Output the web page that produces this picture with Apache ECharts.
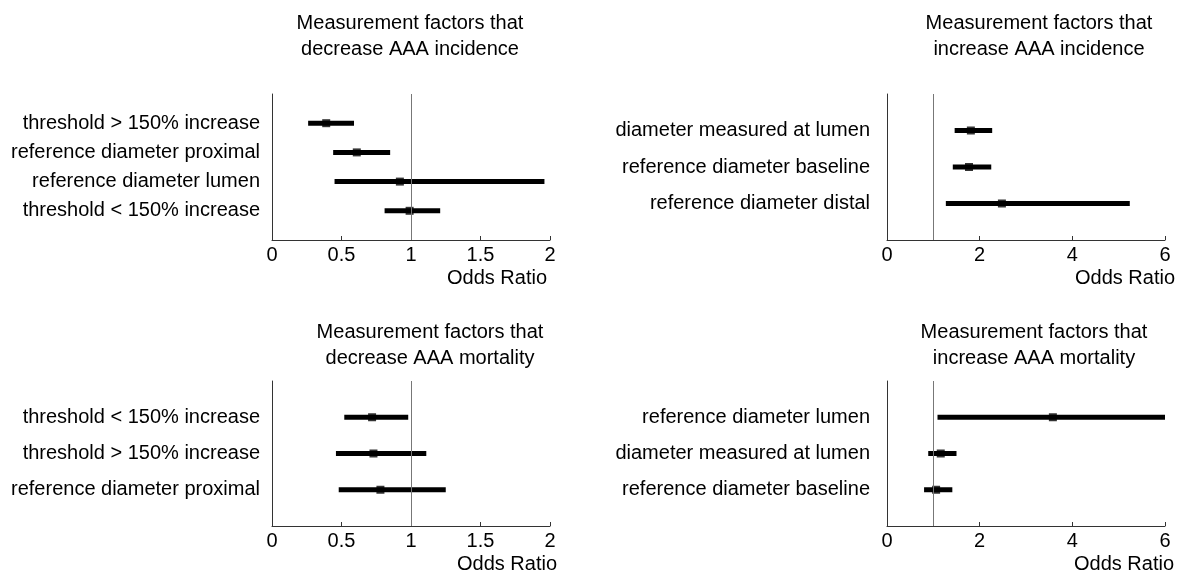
<!DOCTYPE html>
<html>
<head>
<meta charset="utf-8">
<script src="https://cdn.jsdelivr.net/npm/echarts@6/dist/echarts.min.js"></script>
<style>
html,body{margin:0;padding:0;background:#fff;}
#chart{width:1187px;height:574px;}
</style>
</head>
<body>
<div id="chart"></div>
<script>
// ---- Data (top-to-bottom row order) ----
const titles = [
  'Measurement factors that\ndecrease AAA incidence',
  'Measurement factors that\nincrease AAA incidence',
  'Measurement factors that\ndecrease AAA mortality',
  'Measurement factors that\nincrease AAA mortality'
];

const decIncNames = ['threshold > 150% increase', 'reference diameter proximal', 'reference diameter lumen', 'threshold < 150% increase'];
const decIncOR   = [0.39, 0.61, 0.92, 0.99];
const decIncLow  = [0.26, 0.44, 0.45, 0.81];
const decIncHigh = [0.59, 0.85, 1.96, 1.21];

const incIncNames = ['diameter measured at lumen', 'reference diameter baseline', 'reference diameter distal'];
const incIncOR   = [1.81, 1.77, 2.48];
const incIncLow  = [1.46, 1.42, 1.27];
const incIncHigh = [2.27, 2.25, 5.24];

const decMortNames = ['threshold < 150% increase', 'threshold > 150% increase', 'reference diameter proximal'];
const decMortOR   = [0.72, 0.73, 0.78];
const decMortLow  = [0.52, 0.46, 0.48];
const decMortHigh = [0.98, 1.11, 1.25];

const incMortNames = ['reference diameter lumen', 'diameter measured at lumen', 'reference diameter baseline'];
const incMortOR   = [3.58, 1.16, 1.06];
const incMortLow  = [1.09, 0.89, 0.80];
const incMortHigh = [6.0, 1.50, 1.41];

const xMaxSmall = 2, xIntSmall = 0.5;
const xMaxLarge = 6, xIntLarge = 2;
const refValue = 1;

// ---- Layout ----
const FONT = "'Liberation Sans', Arial, Helvetica, sans-serif";
const FS = 20;
const panels = [
  {names: decIncNames,  or: decIncOR,  lo: decIncLow,  hi: decIncHigh,  xmax: xMaxSmall, xint: xIntSmall,
   grid: {left: 272, top: 94, width: 278, height: 146}, titleX: 410, titleY: 10, labelMargin: 12, nameGap: -3},
  {names: incIncNames,  or: incIncOR,  lo: incIncLow,  hi: incIncHigh,  xmax: xMaxLarge, xint: xIntLarge,
   grid: {left: 887, top: 94, width: 278, height: 146}, titleX: 1039, titleY: 10, labelMargin: 17, nameGap: 10},
  {names: decMortNames, or: decMortOR, lo: decMortLow, hi: decMortHigh, xmax: xMaxSmall, xint: xIntSmall,
   grid: {left: 272, top: 381, width: 278, height: 145}, titleX: 430, titleY: 319, labelMargin: 12, nameGap: 7},
  {names: incMortNames, or: incMortOR, lo: incMortLow, hi: incMortHigh, xmax: xMaxLarge, xint: xIntLarge,
   grid: {left: 887, top: 381, width: 278, height: 145}, titleX: 1034, titleY: 319, labelMargin: 17, nameGap: 9}
];

const option = {
  animation: false,
  backgroundColor: '#ffffff',
  textStyle: {fontFamily: FONT},
  title: panels.map((p, i) => ({
    text: titles[i],
    left: p.titleX, top: p.titleY,
    textAlign: 'center',
    padding: 0,
    textStyle: {fontFamily: FONT, fontSize: FS, fontWeight: 'normal', color: '#000', lineHeight: 26}
  })),
  grid: panels.map(p => Object.assign({containLabel: false}, p.grid)),
  xAxis: panels.map((p, i) => ({
    type: 'value', gridIndex: i, min: 0, max: p.xmax, interval: p.xint,
    axisLine: {show: true, lineStyle: {color: '#333', width: 1}},
    axisTick: {show: true, inside: true, length: 4, lineStyle: {color: '#333'}},
    splitLine: {show: false},
    axisLabel: {fontFamily: FONT, fontSize: FS, color: '#000', margin: 5},
    name: 'Odds Ratio', nameLocation: 'end', nameGap: p.nameGap,
    nameTextStyle: {fontFamily: FONT, fontSize: FS, color: '#000', align: 'right', verticalAlign: 'top', padding: [28, 0, 0, 0]}
  })),
  yAxis: panels.map((p, i) => {
    const n = p.names.length;
    return {
      type: 'value', gridIndex: i, min: 0, max: n + 1, interval: 1,
      axisLine: {show: true, lineStyle: {color: '#333', width: 1}},
      axisTick: {show: false},
      splitLine: {show: false},
      axisLabel: {
        fontFamily: FONT, fontSize: FS, color: '#000', margin: p.labelMargin,
        formatter: v => (v >= 1 && v <= n) ? p.names[n - v] : ''
      }
    };
  }),
  series: []
};

panels.forEach((p, i) => {
  const n = p.names.length;
  const ciData = p.names.map((nm, k) => [p.lo[k], p.hi[k], n - k]);
  const ptData = p.names.map((nm, k) => [p.or[k], n - k]);
  option.series.push({
    type: 'custom', xAxisIndex: i, yAxisIndex: i,
    data: ciData,
    encode: {x: [0, 1], y: 2},
    renderItem: (params, api) => {
      const a = api.coord([api.value(0), api.value(2)]);
      const b = api.coord([api.value(1), api.value(2)]);
      return {type: 'line', shape: {x1: a[0], y1: a[1], x2: b[0], y2: b[1]},
              style: {stroke: '#000', lineWidth: 5}};
    },
    markLine: {
      silent: true, symbol: ['none', 'none'], label: {show: false},
      lineStyle: {color: '#777', width: 1, type: 'solid'},
      data: [{xAxis: refValue}]
    },
    z: 2
  });
  option.series.push({
    type: 'scatter', xAxisIndex: i, yAxisIndex: i,
    data: ptData, symbol: 'rect', symbolSize: 8,
    itemStyle: {color: '#000'}, z: 3
  });
});

const chart = echarts.init(document.getElementById('chart'), null, {renderer: 'canvas'});
chart.setOption(option);
</script>
</body>
</html>
